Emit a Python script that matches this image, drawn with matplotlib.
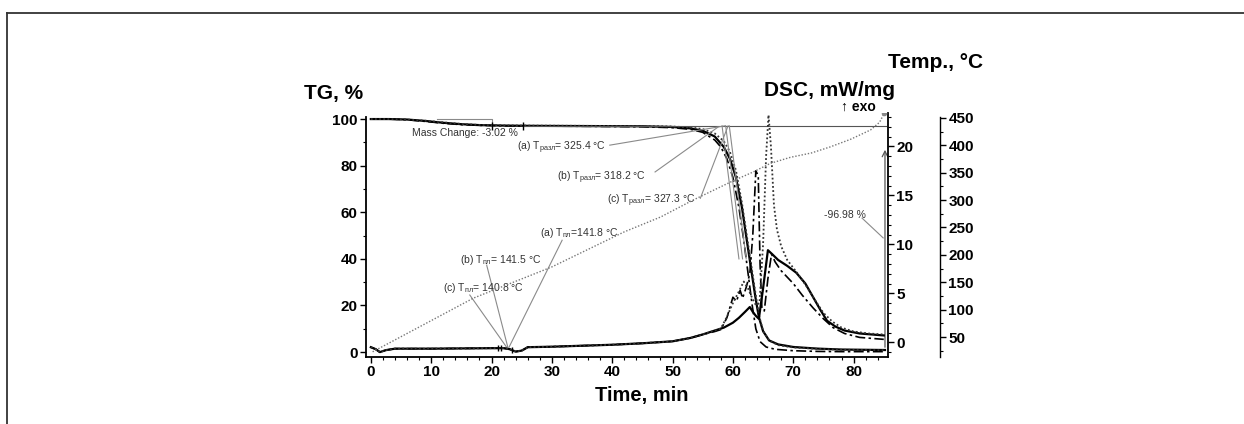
import matplotlib.pyplot as plt
from matplotlib.lines import Line2D
from matplotlib.ticker import MultipleLocator

plt.rcParams['font.family'] = ['Liberation Sans', 'DejaVu Sans']
plt.rcParams['mathtext.fontset'] = 'custom'
plt.rcParams['mathtext.rm'] = 'Liberation Sans'
plt.rcParams['mathtext.it'] = 'Liberation Sans'
plt.rcParams['mathtext.bf'] = 'Liberation Sans:bold'

# --- TG curves (%, left axis) ---
tg_t_a = [0, 3, 6, 9, 12, 15, 18, 22, 26, 35, 45, 50, 53, 55, 57, 58.5, 59.5, 60.5, 61.5,
          62.3, 63, 63.7, 64.3, 65, 66, 67.5, 70, 74, 78, 85.2]
tg_a = [100, 100, 99.8, 99.2, 98.4, 97.8, 97.4, 97.2, 97.1, 97.0, 96.9, 96.6, 96.0, 95.0, 92.5,
        88, 83, 75, 62, 48, 36, 24, 15, 9, 5, 3.3, 2.2, 1.5, 1.1, 0.9]
tg_t_b = [0, 3, 6, 9, 12, 15, 18, 22, 26, 35, 45, 50, 53, 55, 57, 58, 59, 60, 61, 61.8, 62.5,
          63.2, 63.8, 64.5, 65.5, 67, 70, 74, 78, 85.2]
tg_b = [100, 100, 99.7, 99.0, 98.2, 97.6, 97.3, 97.1, 97.0, 96.9, 96.7, 96.3, 95.6, 94.3, 91,
        88, 83, 75, 62, 48, 34, 20, 10, 4.5, 2.2, 1.2, 0.6, 0.3, 0.2, 0.2]
tg_t_c = [0, 3, 6, 9, 12, 15, 18, 22, 26, 35, 45, 50, 53, 55, 57, 58.5, 59.5, 60.5, 61.5,
          62.3, 63, 63.7, 64.3, 65, 66, 67.5, 70, 74, 78, 85.2]
tg_c = [100, 100, 99.8, 99.3, 98.6, 97.9, 97.5, 97.3, 97.2, 97.1, 97.0, 96.8, 96.4, 95.7, 93.8,
        90.5, 86, 78, 64, 50, 38, 26, 16, 9, 5, 3.0, 2.0, 1.4, 1.0, 0.8]

# --- DSC curves (mW/mg) ---
dsc_t_a = [0, 0.8, 1.5, 2.5, 4, 10, 20, 22, 23, 24, 25, 26, 30, 40, 45, 50, 53, 55, 57, 58.5,
           60, 61, 62, 62.8, 63.3, 63.8, 64.3, 65, 65.8, 66.5, 67.5, 69, 70.5, 72, 73.3, 74.5,
           75.6, 77, 78.5, 81, 85]
dsc_a = [-0.5, -0.7, -1.0, -0.8, -0.65, -0.65, -0.6, -0.6, -0.7, -0.95, -0.85, -0.5, -0.45,
         -0.25, -0.1, 0.1, 0.45, 0.8, 1.2, 1.5, 2.0, 2.5, 3.1, 3.6, 3.1, 2.7, 2.4, 5.5, 9.4,
         9.0, 8.4, 7.8, 7.1, 6.0, 4.6, 3.3, 2.2, 1.6, 1.2, 0.9, 0.7]
dsc_t_b = [0, 0.8, 1.5, 2.5, 4, 10, 20, 22, 23, 24, 25, 26, 30, 40, 45, 50, 53, 55, 57, 58,
           59, 60, 60.6, 61.2, 61.6, 62.2, 62.8, 63.3, 63.8, 64.2, 64.5, 64.8, 65.2, 65.8, 66.4,
           67, 68, 70, 71.5, 73.3, 75, 76.6, 78.5, 81, 85]
dsc_b = [-0.5, -0.7, -1.0, -0.8, -0.65, -0.65, -0.6, -0.6, -0.7, -0.95, -0.85, -0.5, -0.45,
         -0.25, -0.1, 0.1, 0.45, 0.8, 1.1, 1.3, 2.5, 4.6, 4.2, 5.3, 4.5, 5.6, 7.0, 11, 17.5,
         17.0, 8, 3.5, 3.2, 6.5, 9.0, 8.2, 7.3, 6.0, 4.8, 3.5, 2.4, 1.5, 0.9, 0.5, 0.3]
dsc_t_c = [0, 0.8, 1.5, 2.5, 4, 10, 20, 22, 23, 24, 25, 26, 30, 40, 45, 50, 53, 55, 57, 58,
           59, 60, 61, 61.8, 62.5, 63.2, 63.8, 64.4, 65.0, 65.5, 65.9, 66.3, 66.8, 67.3, 68,
           69, 70.5, 72, 73.5, 75, 76.5, 78, 80, 82.5, 85]
dsc_c = [-0.5, -0.7, -1.0, -0.8, -0.65, -0.65, -0.6, -0.6, -0.7, -0.95, -0.85, -0.5, -0.45,
         -0.25, -0.1, 0.1, 0.45, 0.8, 1.2, 1.4, 2.6, 4.0, 5.2, 6.2, 5.5, 4.5, 3.8, 4.0, 10,
         19, 23.2, 20, 14, 11.5, 9.8, 8.4, 7.2, 5.9, 4.4, 3.0, 2.1, 1.5, 1.1, 0.9, 0.8]

# --- furnace temperature (°C) ---
temp_t = [0.3, 17, 30, 42, 48, 53.4, 60, 63.3, 66.2, 69.5, 73, 76.1, 79.5, 82.8, 84.3, 85.1]
temp = [23, 121, 178, 242, 269, 300, 335, 351, 367, 378, 386, 397, 411, 428, 442, 459]

W, H = 1244, 424
fig = plt.figure(figsize=(W / 100, H / 100), dpi=100)


def fx(px):
    return px / W


def fy(py):
    return 1 - py / H


# figure frame (top and left edges)
fig.add_artist(Line2D([fx(7), fx(7)], [fy(13), 0], color='#333333', lw=1.3))
fig.add_artist(Line2D([fx(7), 1], [fy(13), fy(13)], color='#333333', lw=1.3))

ax = fig.add_axes([fx(366), fy(357), fx(888) - fx(366), fy(113) - fy(357)])
ax2 = ax.twinx()
ax3 = ax.twinx()

tick_kw = dict(labelsize=11, width=1.0, length=4, pad=2)
for a in (ax, ax2, ax3):
    a.patch.set_visible(False)
    for s in a.spines.values():
        s.set_visible(False)
        s.set_linewidth(1.3)

# TG axis
ax.set_xlim(-0.8, 85.7)
ax.set_ylim(-2.1, 102.6)
ax.spines['left'].set_visible(True)
ax.spines['left'].set_bounds(-2.1, 101)
ax.spines['bottom'].set_visible(True)
ax.xaxis.set_major_locator(MultipleLocator(10))
ax.xaxis.set_minor_locator(MultipleLocator(2))
ax.yaxis.set_major_locator(MultipleLocator(20))
ax.yaxis.set_minor_locator(MultipleLocator(10))
ax.set_xticks(range(0, 90, 10))
ax.tick_params(axis='both', which='major', **tick_kw)
ax.tick_params(axis='both', which='minor', length=2, width=0.8)
ax.set_xlim(-0.8, 85.7)

# DSC axis
ax2.set_ylim(-1.5, 23.4)
ax2.spines['right'].set_visible(True)
ax2.yaxis.set_major_locator(MultipleLocator(5))
ax2.yaxis.set_minor_locator(MultipleLocator(1))
ax2.tick_params(axis='y', which='major', **tick_kw)
ax2.tick_params(axis='y', which='minor', length=2, width=0.8)

# Temperature axis
ax3.set_ylim(13.5, 459)
ax3.spines['right'].set_visible(True)
ax3.spines['right'].set_position(('outward', 52 * 0.72))
ax3.spines['right'].set_bounds(13.5, 452)
ax3.spines['right'].set_linewidth(1.0)
ax3.yaxis.set_major_locator(MultipleLocator(50))
ax3.yaxis.set_minor_locator(MultipleLocator(25))
ax3.set_yticks(range(50, 500, 50))
ax3.set_ylim(13.5, 459)
ax3.tick_params(axis='y', which='major', **tick_kw)
ax3.tick_params(axis='y', which='minor', length=2, width=0.8)

for a in (ax, ax2, ax3):
    for lab in a.get_xticklabels() + a.get_yticklabels():
        lab.set_fontweight('bold')

# temperature program
ax3.plot(temp_t, temp, color='#777777', lw=1.0, ls=(0, (1, 1.3)))
ax3.plot([temp_t[-1]], [temp[-1]], 'o', color='#888888', ms=3)

# TG curves
ax.plot(tg_t_a, tg_a, color='black', lw=1.6)
ax.plot(tg_t_b, tg_b, color='black', lw=1.2, ls=(0, (6, 2, 1.5, 2)))
ax.plot(tg_t_c, tg_c, color='#333333', lw=1.3, ls=(0, (1, 1.3)))

# DSC curves
ax2.plot(dsc_t_a, dsc_a, color='black', lw=1.6)
ax2.plot(dsc_t_b, dsc_b, color='black', lw=1.2, ls=(0, (6, 2, 1.5, 2)))
ax2.plot(dsc_t_c, dsc_c, color='#333333', lw=1.3, ls=(0, (1, 1.3)))

grey = '#8a8a8a'
txt = '#333333'

# extrapolated baseline and onset tangents
ax.plot([25.2, 85.3], [97.1, 97.1], color='#555555', lw=0.8)
ax.plot([58.2, 61.0], [97.1, 40], color=grey, lw=0.8)
ax.plot([58.8, 61.6], [97.1, 40], color=grey, lw=0.8)
ax.plot([59.4, 62.2], [97.1, 40], color=grey, lw=0.8)

# mass change step
ax.plot([11, 20, 20], [100, 100, 97.2], color=grey, lw=0.8)
ax.plot([20, 25.2], [97.2, 97.2], 'k|', ms=6)
ax2.plot([21, 21.5, 23.4], [-0.6, -0.6, -0.75], 'k|', ms=5)
ax.text(6.8, 94, 'Mass Change: -3.02 %', fontsize=7.5, color=txt, va='center')

# total mass loss arrow
ax.annotate('', xy=(85.2, 88), xytext=(85.2, 0.9),
            arrowprops=dict(arrowstyle='->', color='#555555', lw=0.9))
ax.text(78.6, 58.8, '-96.98 %', fontsize=7.5, color=txt, ha='center', va='center')
ax.plot([81.4, 84.9], [57.5, 49], color=grey, lw=0.8)

# decomposition onsets
sub_d = r'T$_{\mathrm{разл}}$'
ax.text(24.2, 87.5, '(a) ' + sub_d + '= 325.4 °C', fontsize=7.5, color=txt, va='center')
ax.plot([39.6, 58.7], [88.8, 97.1], color=grey, lw=0.8)
ax.text(30.8, 74.7, '(b) ' + sub_d + '= 318.2 °C', fontsize=7.5, color=txt, va='center')
ax.plot([47.1, 57.5], [77.3, 96.5], color=grey, lw=0.8)
ax.text(39.1, 64.8, '(c) ' + sub_d + '= 327.3 °C', fontsize=7.5, color=txt, va='center')
ax.plot([54.6, 59.2], [66, 97.1], color=grey, lw=0.8)

# melting points
sub_m = r'T$_{\mathrm{пл}}$'
ax.text(28.0, 51, '(a) ' + sub_m + '=141.8 °C', fontsize=7.5, color=txt, va='center')
ax.plot([31.7, 22.9], [48, 2.1], color=grey, lw=0.8)
ax.text(14.8, 39.5, '(b) ' + sub_m + '= 141.5 °C', fontsize=7.5, color=txt, va='center')
ax.plot([19.2, 22.7], [37.3, 2.1], color=grey, lw=0.8)
ax.text(11.9, 27.5, '(c) ' + sub_m + '= 140.8 °C', fontsize=7.5, color=txt, va='center')
ax.plot([16.4, 22.5], [24.5, 2.1], color=grey, lw=0.8)

# axis titles
fig.text(fx(334), fy(93), 'TG, %', fontsize=15, fontweight='bold', ha='center', va='center')
fig.text(fx(642), fy(396), 'Time, min', fontsize=14.5, fontweight='bold', ha='center', va='center')
fig.text(fx(830), fy(90), 'DSC, mW/mg', fontsize=15, fontweight='bold', ha='center', va='center')
fig.text(fx(936), fy(62), 'Temp., °C', fontsize=15, fontweight='bold', ha='center', va='center')
fig.text(fx(858), fy(107), '↑ exo', fontsize=10, fontweight='bold', ha='center', va='center',
         family=['Liberation Sans', 'DejaVu Sans'])

fig.savefig('out.png', dpi=100)
